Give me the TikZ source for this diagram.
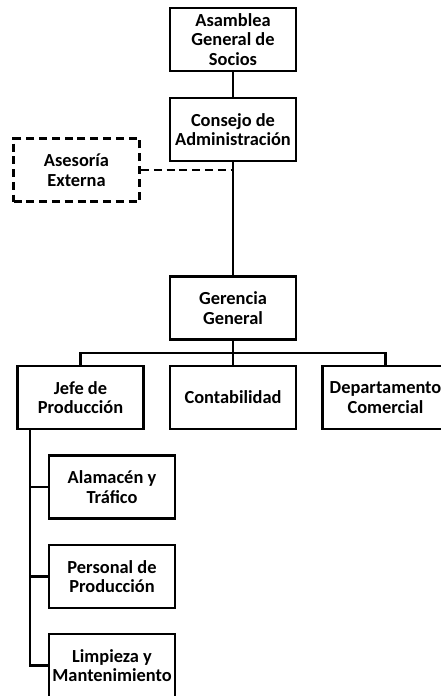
\documentclass[tikz,border=0pt]{standalone}
\usepackage{fontspec}
\setmainfont{Carlito}
\usepackage{tikz}
\usetikzlibrary{arrows.meta}
\tikzstyle{caja} = [draw, line width=2.2pt, minimum width=94.5pt, minimum height=47.25pt, inner sep=1pt, align=center, font=\fontsize{13.8}{14.6}\selectfont\bfseries]
\tikzstyle{externa} = [caja, dash pattern=on 6pt off 3.6pt]
\tikzstyle{linea} = [line width=2.2pt]

\begin{document}
\begin{tikzpicture}[x=0.75pt, y=-0.75pt]
    \useasboundingbox (0,0) rectangle (441,696);
    
    % direccion
    \node[caja] (asamblea) at (233,39.5) {Asamblea\\General de\\Socios};
    \node[caja] (consejo) at (233,129.5) {Consejo de\\Administración};
    \node[externa] (asesoria) at (76.5,170) {Asesoría\\Externa};
    \node[caja] (gerencia) at (233,308) {Gerencia\\General};
    
    % departamentos
    \node[caja] (jefe) at (80.5,397.5) {Jefe de\\Producción};
    \node[caja] (conta) at (233,397.5) {Contabilidad};
    \node[caja] (depto) at (385.5,397.5) {Departamento\\Comercial};
    
    % produccion
    \node[caja] (almacen) at (112,487) {Alamacén y\\Tráfico};
    \node[caja] (personal) at (112,576.5) {Personal de\\Producción};
    \node[caja] (limpieza) at (112,665.5) {Limpieza y\\Mantenimiento};
    
    % lineas de mando
    \draw[linea] (asamblea) -- (consejo);
    \draw[linea] (consejo) -- (gerencia);
    \draw[linea, dash pattern=on 6pt off 3.6pt] (asesoria.east) -- (asesoria.east -| consejo.south);
    
    \coordinate (bus) at (233,353);
    \draw[linea] (gerencia) -- (conta);
    \draw[linea] (jefe.north) |- (bus) -| (depto.north);
    
    % columna de produccion
    \coordinate (eje) at (30,429);
    \draw[linea] (eje) |- (limpieza.west);
    \foreach \n in {almacen, personal} {
        \draw[linea] (\n.west) -- (\n.west -| eje);
    }
    
\end{tikzpicture}
\end{document}
